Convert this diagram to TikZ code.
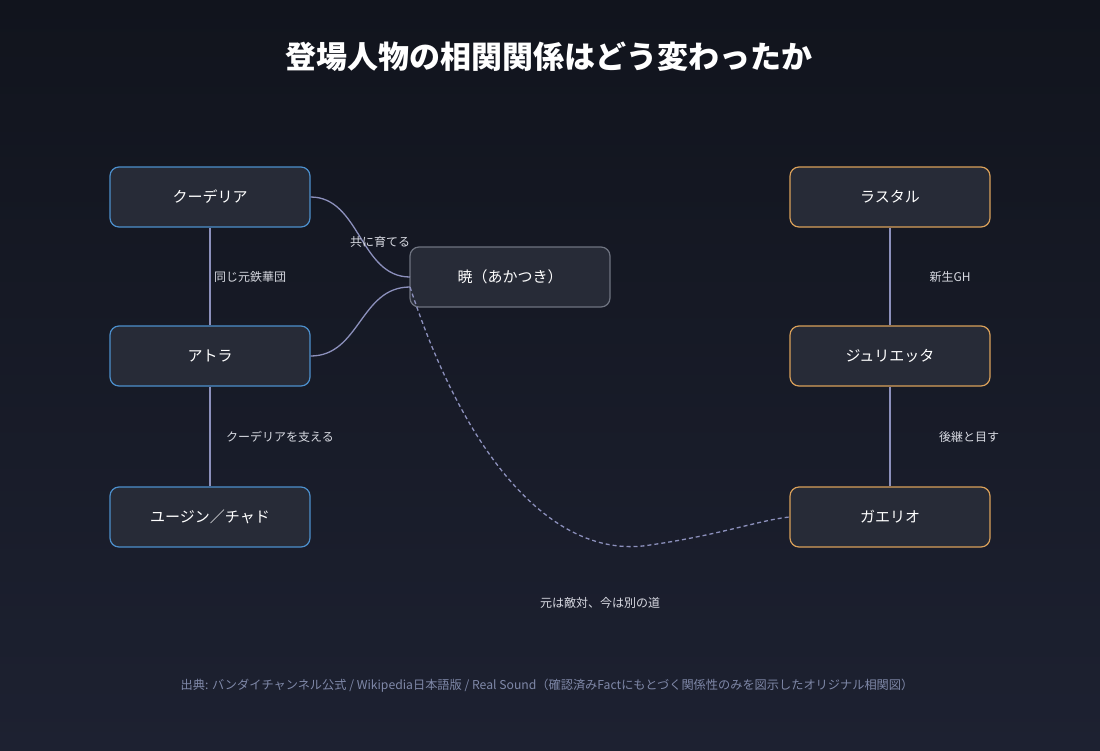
\documentclass[tikz,border=0pt]{standalone}
\usepackage{fontspec}
\setmainfont{Noto Sans CJK JP}
\definecolor{bgA}{HTML}{11141D}
\definecolor{bgB}{HTML}{1D2131}
\definecolor{boxfill}{HTML}{272B37}
\definecolor{blueb}{HTML}{4C8FCC}
\definecolor{orangeb}{HTML}{D9A05A}
\definecolor{grayb}{HTML}{6E7380}
\definecolor{edge}{HTML}{8C90BC}
\definecolor{lbl}{HTML}{D8DAE2}
\definecolor{foot}{HTML}{7F88A8}
\begin{document}
\begin{tikzpicture}[x=1pt,y=-1pt,
  box/.style={draw,line width=1.2pt,rounded corners=9pt,fill=boxfill,minimum width=200pt,minimum height=60pt,text=white,font=\fontsize{15}{17}\selectfont},
  bl/.style={box,draw=blueb},
  og/.style={box,draw=orangeb},
  gy/.style={box,draw=grayb},
  ed/.style={draw=edge,line width=1.3pt},
  lab/.style={text=lbl,font=\fontsize{12}{14}\selectfont}]
\shade[top color=bgA,bottom color=bgB] (0,0) rectangle (1100,750);
\useasboundingbox (0,0) rectangle (1100,750);
\node[text=white,font=\fontsize{31}{35}\selectfont\bfseries] (title) at (549,57) {登場人物の相関関係はどう変わったか};
\node[bl] (k) at (210,197) {クーデリア};
\node[bl] (a) at (210,356) {アトラ};
\node[bl] (y) at (210,517) {ユージン／チャド};
\node[gy] (g) at (510,277) {暁（あかつき）};
\node[og] (r) at (890,197) {ラスタル};
\node[og] (j) at (890,356) {ジュリエッタ};
\node[og] (ga) at (890,517) {ガエリオ};
\draw[ed] (k.south) -- (a.north);
\draw[ed] (a.south) -- (y.north);
\draw[ed] (r.south) -- (j.north);
\draw[ed] (j.south) -- (ga.north);
\coordinate (g1) at (410,277);
\coordinate (g2) at (410,287);
\draw[ed] (k.east) .. controls (360,197) and (360,277) .. (g1);
\draw[ed] (a.east) .. controls (360,356) and (360,287) .. (g2);
\draw[ed,dashed,dash pattern=on 4pt off 3pt] (g2) .. controls (470,470) and (560,560) .. (650,545) .. controls (720,535) and (760,520) .. (ga.west);
\node[lab] (l1) at (380,242) {共に育てる};
\node[lab] (l2) at (250,277) {同じ元鉄華団};
\node[lab] (l3) at (280,437) {クーデリアを支える};
\node[lab] (l4) at (950,277) {新生GH};
\node[lab] (l5) at (969,437) {後継と目す};
\node[lab] (l6) at (600,603) {元は敵対、今は別の道};
\node[text=foot,font=\fontsize{12.2}{14}\selectfont] (ft) at (547,686) {出典: バンダイチャンネル公式 / Wikipedia日本語版 / Real Sound（確認済みFactにもとづく関係性のみを図示したオリジナル相関図）};
\end{tikzpicture}
\end{document}
